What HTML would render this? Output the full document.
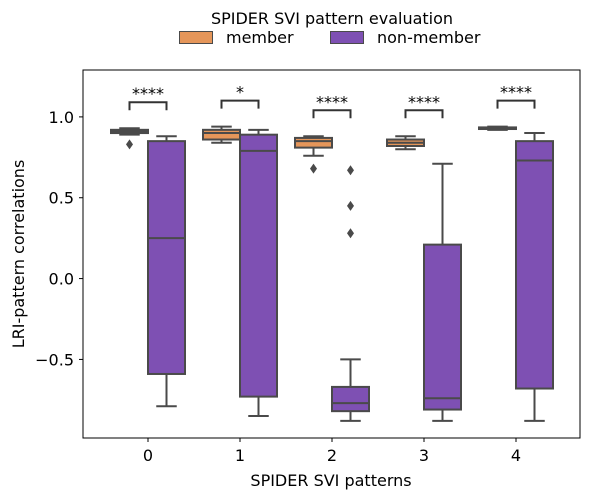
<!DOCTYPE html>
<html><head><meta charset="utf-8"><style>
body{margin:0;background:#fff;}
svg{display:block;font-family:"DejaVu Sans","Liberation Sans",sans-serif;}
</style></head><body>
<svg id="chart" width="589" height="500"></svg>
<script>
const categories = ["0","1","2","3","4"];
const memberStats = [
  [0.89,0.90,0.91,0.92,0.93],
  [0.84,0.86,0.90,0.92,0.94],
  [0.76,0.81,0.85,0.87,0.88],
  [0.80,0.82,0.84,0.86,0.88],
  [0.92,0.925,0.93,0.935,0.94]
];
const nonMemberStats = [
  [-0.79,-0.59,0.25,0.85,0.88],
  [-0.85,-0.73,0.79,0.89,0.92],
  [-0.88,-0.82,-0.77,-0.67,-0.50],
  [-0.88,-0.81,-0.74,0.21,0.71],
  [-0.88,-0.68,0.73,0.85,0.90]
];
const memberOutliers = [[0.83],[],[0.68],[],[]];
const nonMemberOutliers = [[],[],[0.67,0.45,0.28],[],[]];
const sigLabels = ["****","*","****","****","****"];
const yTicks = [-0.5,0.0,0.5,1.0];
const yTickLabels = ["−0.5","0.0","0.5","1.0"];

const NS="http://www.w3.org/2000/svg";
const svg=document.getElementById('chart');
const L=83,R=580,T=70,B=438;
const yMin=-0.986,yMax=1.29;
const y=v=>B-(v-yMin)/(yMax-yMin)*(B-T);
const x=i=>148+i*92;
const edge="#4a4a4a";
function el(tag,attrs,parent){const e=document.createElementNS(NS,tag);for(const k in attrs)e.setAttribute(k,attrs[k]);(parent||svg).appendChild(e);return e;}

const frame=el('rect',{x:L,y:T,width:R-L,height:B-T,fill:'none',stroke:'#000','stroke-width':1});



yTicks.forEach((t,i)=>{
  const g=el('g',{});
  
  
  el('line',{x1:L-4,x2:L,y1:y(t),y2:y(t),stroke:'#000'},g);
  const tx=el('text',{x:L-9,y:y(t)+6,'text-anchor':'end','font-size':16},g);tx.textContent=yTickLabels[i];
});
categories.forEach((c,i)=>{
  const g=el('g',{});
  
  
  el('line',{x1:x(i),x2:x(i),y1:B,y2:B+4,stroke:'#000'},g);
  const tx=el('text',{x:x(i),y:B+23,'text-anchor':'middle','font-size':16},g);tx.textContent=c;
});

function drawBox(cx,s,fill,outs,name){
  const g=el('g',{});
  
  
  const w=37,cap=w/2;
  const sw=2;
  el('line',{x1:cx,x2:cx,y1:y(s[0]),y2:y(s[1]),stroke:edge,'stroke-width':sw},g);
  el('line',{x1:cx,x2:cx,y1:y(s[3]),y2:y(s[4]),stroke:edge,'stroke-width':sw},g);
  el('line',{x1:cx-cap/2-1,x2:cx+cap/2+1,y1:y(s[0]),y2:y(s[0]),stroke:edge,'stroke-width':sw},g);
  el('line',{x1:cx-cap/2-1,x2:cx+cap/2+1,y1:y(s[4]),y2:y(s[4]),stroke:edge,'stroke-width':sw},g);
  el('rect',{x:cx-w/2,y:y(s[3]),width:w,height:Math.max(y(s[1])-y(s[3]),1),fill:fill,stroke:edge,'stroke-width':sw},g);
  el('line',{x1:cx-w/2,x2:cx+w/2,y1:y(s[2]),y2:y(s[2]),stroke:edge,'stroke-width':sw},g);
  outs.forEach(o=>{el('path',{d:`M${cx},${y(o)-5}L${cx+3.5},${y(o)}L${cx},${y(o)+5}L${cx-3.5},${y(o)}Z`,fill:edge},g);});
}
categories.forEach((c,i)=>{
  drawBox(x(i)-18.5,memberStats[i],'#e5965a',memberOutliers[i],'box-member-'+c);
  drawBox(x(i)+18.5,nonMemberStats[i],'#7e50b3',nonMemberOutliers[i],'box-non-member-'+c);
  const top=Math.max(memberStats[i][4],nonMemberStats[i][4],...memberOutliers[i],...nonMemberOutliers[i]);
  const yb=y(top)-26, yl=yb+8;
  const g=el('g',{});
  
  
  el('path',{d:`M${x(i)-18.5},${yl}V${yb}H${x(i)+18.5}V${yl}`,fill:'none',stroke:'#333','stroke-width':2},g);
  const t=el('text',{x:x(i),y:yb-3,'text-anchor':'middle','font-size':16},g);t.textContent=sigLabels[i];
});

const xt=el('text',{x:331,y:486,'text-anchor':'middle','font-size':16});xt.textContent='SPIDER SVI patterns';


const yt=el('text',{x:0,y:0,'text-anchor':'middle','font-size':16,transform:'translate(24,254) rotate(-90)'});yt.textContent='LRI-pattern correlations';



const lg=el('g',{});


const lt=el('text',{x:332,y:24,'text-anchor':'middle','font-size':16},lg);lt.textContent='SPIDER SVI pattern evaluation';
const e1=el('g',{},lg);


el('rect',{x:179.5,y:31.5,width:33,height:12,fill:'#e5965a',stroke:edge,'stroke-width':1},e1);
const t1=el('text',{x:226,y:43,'font-size':16},e1);t1.textContent='member';
const e2=el('g',{},lg);


el('rect',{x:330.5,y:31.5,width:33,height:12,fill:'#7e50b3',stroke:edge,'stroke-width':1},e2);
const t2=el('text',{x:377,y:43,'font-size':16},e2);t2.textContent='non-member';
</script>
</body></html>
